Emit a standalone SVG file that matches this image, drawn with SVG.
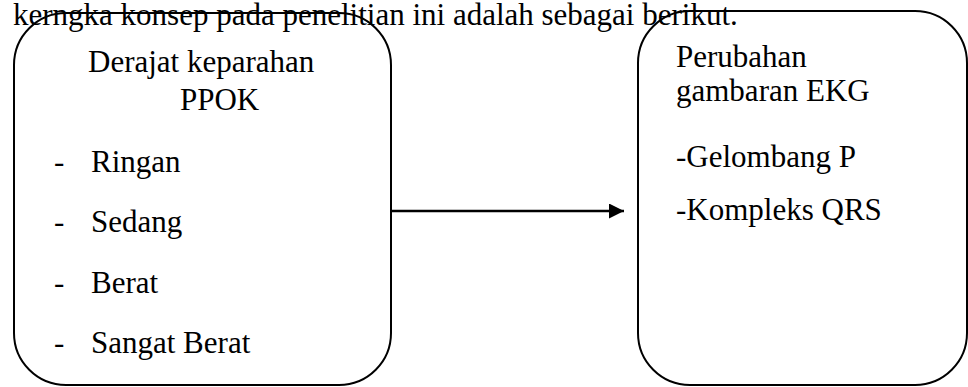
<svg xmlns="http://www.w3.org/2000/svg" width="968" height="387" viewBox="0 0 968 387" font-family="'Liberation Serif', 'DejaVu Serif', serif" font-size="31">
<defs>
<style>
text{font-family:"Liberation Serif","DejaVu Serif",serif;font-size:31px;fill:#000}
.box{fill:none;stroke:#000;stroke-width:2}
.conn{stroke:#000;stroke-width:2.5;fill:none}
</style>
<marker id="ah" viewBox="0 0 10 10" refX="10" refY="5" markerUnits="userSpaceOnUse" markerWidth="16" markerHeight="15" orient="auto">
<path d="M0,0 L10,5 L0,10 Z" fill="#000"/>
</marker>
</defs>
<rect width="968" height="387" fill="#fff"/>
<text x="13" y="25">kerngka konsep pada penelitian ini adalah sebagai berikut.</text>
<g id="node-ppok">
<rect class="box" x="14" y="13" width="377" height="372" rx="52" ry="52"/>
<text x="88" y="72">Derajat keparahan</text>
<text x="180" y="110">PPOK</text>
<text x="54" y="172">-</text><text x="91" y="172">Ringan</text>
<text x="54" y="232">-</text><text x="91" y="232">Sedang</text>
<text x="54" y="293">-</text><text x="91" y="293">Berat</text>
<text x="54" y="353">-</text><text x="91" y="353">Sangat Berat</text>
</g>
<g id="node-ekg">
<rect class="box" x="638" y="11" width="329" height="374" rx="52" ry="52"/>
<text x="676" y="67">Perubahan</text>
<text x="676" y="101">gambaran EKG</text>
<text x="676" y="167">-Gelombang P</text>
<text x="676" y="220">-Kompleks QRS</text>
</g>
<g id="connectors">
<line class="conn" x1="392" y1="211" x2="624" y2="211" marker-end="url(#ah)"/>
</g>
</svg>
